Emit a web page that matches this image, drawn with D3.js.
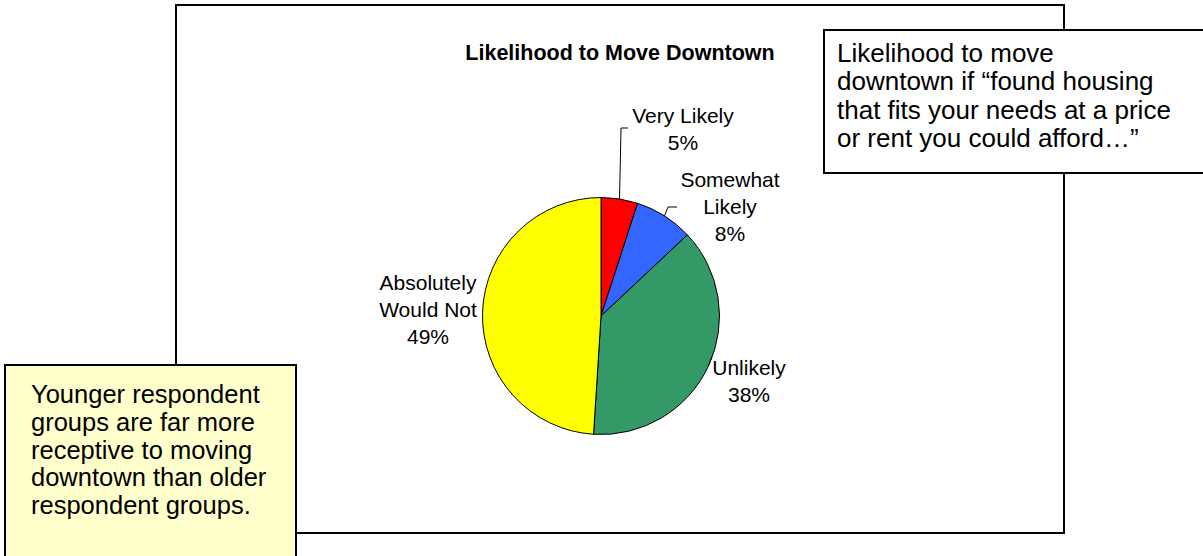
<!DOCTYPE html>
<html>
<head>
<meta charset="utf-8">
<script src="https://cdn.jsdelivr.net/npm/d3@7"></script>
<style>
  html, body { margin: 0; padding: 0; background: #fff; }
  svg { display: block; font-family: Arial, "Liberation Sans", sans-serif; }
</style>
</head>
<body>
<svg id="chart" width="1203" height="556"></svg>
<script>
// Survey responses: likelihood to move downtown
const categories = ["Very Likely", "Somewhat Likely", "Unlikely", "Absolutely Would Not"];
const shares = [5, 8, 38, 49];
const sliceColors = ["#FF0000", "#3366FF", "#339966", "#FFFF00"];
const labelLines = [["Very Likely"], ["Somewhat", "Likely"], ["Unlikely"], ["Absolutely", "Would Not"]];
const chartTitle = "Likelihood to Move Downtown";
const noteLines = ["Likelihood to move", "downtown if \u201cfound housing", "that fits your needs at a price", "or rent you could afford\u2026\u201d"];
const sideLines = ["Younger respondent", "groups are far more", "receptive to moving", "downtown than older", "respondent groups."];

const svg = d3.select("#chart");

// outer chart frame
svg.append("rect")
  .attr("x", 176).attr("y", 5).attr("width", 888).attr("height", 528)
  .attr("fill", "#fff").attr("stroke", "#000").attr("stroke-width", 2);

svg.append("text")
  .attr("x", 620).attr("y", 60)
  .attr("text-anchor", "middle")
  .attr("font-size", 21.5).attr("font-weight", "bold")
  .text(chartTitle);

// pie
const cx = 601, cy = 316, r = 118.5;
const data = categories.map((c, i) => ({ name: c, value: shares[i], color: sliceColors[i], lines: labelLines[i] }));
const pie = d3.pie().value(d => d.value).sort(null);
const arcs = pie(data);
const arc = d3.arc().innerRadius(0).outerRadius(r);

const g = svg.append("g").attr("transform", `translate(${cx},${cy})`);
g.selectAll("path.slice")
  .data(arcs)
  .enter().append("path")
  .attr("class", "slice")
  .attr("d", arc)
  .attr("fill", d => d.data.color)
  .attr("stroke", "#000")
  .attr("stroke-width", 1);

// label layout per slice: text anchor point (relative to pie centre) and leader elbow
const labelLayout = [
  { x: 82, y: -193, elbow: [[20, -188], [27, -188]] },
  { x: 129, y: -129, elbow: [[67, -109], [76, -109]] },
  { x: 148, y: 59, elbow: [[111, 41]] },
  { x: -173, y: -26, elbow: null }
];
const lineH = 27;

arcs.forEach((a, i) => {
  const L = labelLayout[i];
  const mid = (a.startAngle + a.endAngle) / 2;
  if (L.elbow) {
    const start = [r * Math.sin(mid), -r * Math.cos(mid)];
    g.append("path")
      .attr("d", d3.line()([start, ...L.elbow]))
      .attr("fill", "none").attr("stroke", "#000").attr("stroke-width", 1);
  }
  const t = g.append("text")
    .attr("text-anchor", "middle")
    .attr("font-size", 21);
  const lines = [...a.data.lines, d3.format(".0f")(a.data.value) + "%"];
  lines.forEach((s, j) => {
    t.append("tspan").attr("x", L.x).attr("y", L.y + j * lineH).text(s);
  });
});

// callout box (top right)
svg.append("rect")
  .attr("x", 824).attr("y", 30).attr("width", 400).attr("height", 143)
  .attr("fill", "#fff").attr("stroke", "#000").attr("stroke-width", 2);
const note = svg.append("text").attr("font-size", 26);
noteLines.forEach((s, j) => {
  note.append("tspan").attr("x", 837).attr("y", 62 + j * 28.3).text(s);
});

// side note (bottom left)
svg.append("rect")
  .attr("x", 5).attr("y", 365).attr("width", 291).attr("height", 200)
  .attr("fill", "#FFFFCC").attr("stroke", "#000").attr("stroke-width", 2);
const side = svg.append("text").attr("font-size", 25.5);
sideLines.forEach((s, j) => {
  side.append("tspan").attr("x", 31).attr("y", 403 + j * 27.75).text(s);
});
</script>
</body>
</html>
